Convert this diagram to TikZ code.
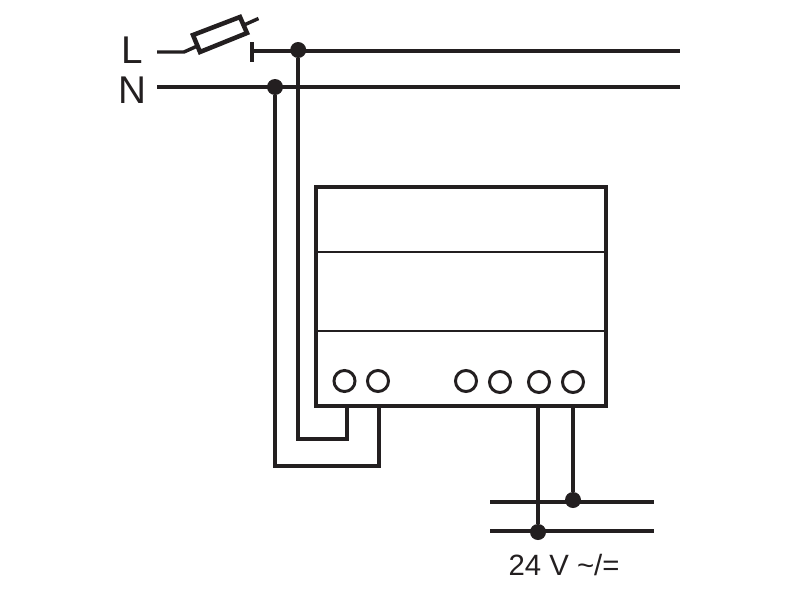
\documentclass[tikz,border=0pt]{standalone}
\usepackage{fontspec}
\setmainfont{Liberation Sans}
\definecolor{ink}{HTML}{231F20}
\tikzset{
  x=0.75pt,y=-0.75pt,
  wire/.style={draw=ink,line width=2.6pt,line join=miter},
  thin wire/.style={draw=ink,line width=1.7pt},
  junction/.style={circle,fill=ink,inner sep=0pt,outer sep=0pt,minimum size=12pt},
  terminal/.style={circle,draw=ink,line width=2.2pt,fill=white,inner sep=0pt,outer sep=0pt,minimum size=15.8pt},
  mainslabel/.style={text=ink,font=\fontsize{29}{29}\selectfont,inner sep=0pt},
  supplylabel/.style={text=ink,font=\fontsize{22}{22}\selectfont,inner sep=0pt},
  device/.style={draw=ink,line width=2.6pt,fill=white,outer sep=0pt},
  fuse/.style={draw=ink,line width=3.4pt,fill=white,line join=miter}
}
\begin{document}
\begin{tikzpicture}
\useasboundingbox (0,0) rectangle (800,600);
% named points
\coordinate (Lstart) at (157,52);
\coordinate (Lbend) at (184,52);
\coordinate (fuseEnd) at (258.5,18.5);
\coordinate (barTop) at (252,42);
\coordinate (barBot) at (252,62);
\coordinate (barMid) at (252,51);
\coordinate (Lend) at (680,51);
\coordinate (Nstart) at (157,87);
\coordinate (Nend) at (680,87);
\coordinate (a1) at (298.2,439);
\coordinate (a2) at (347,439);
\coordinate (a3) at (347,406);
\coordinate (b1) at (275,466);
\coordinate (b2) at (379,466);
\coordinate (b3) at (379,406);
\coordinate (c1) at (538,406);
\coordinate (d1) at (573,406);
\coordinate (p1s) at (490,502);
\coordinate (p1e) at (654,502);
\coordinate (p2s) at (490,531);
\coordinate (p2e) at (654,531);
% mains
\draw[wire] (Lstart) -- (Lbend) -- (fuseEnd);
\draw[wire] (barTop) -- (barBot);
\draw[wire] (barMid) -- (Lend);
\draw[wire] (Nstart) -- (Nend);
\draw[fuse] (193,35) -- (240,17) -- (247,33) -- (200,52) -- cycle;
\node[junction] (jL) at (298.2,50) {};
\node[junction] (jN) at (275,87) {};
% device wires
\draw[wire] (jL) -- (a1) -- (a2) -- (a3);
\draw[wire] (jN) -- (b1) -- (b2) -- (b3);
% device
\node[device,rectangle,minimum width=217.5pt,minimum height=164.25pt,inner sep=0pt,anchor=north west] (box) at (316,187) {};
\draw[thin wire] (box.west |- 0,252) -- (box.east |- 0,252);
\draw[thin wire] (box.west |- 0,331) -- (box.east |- 0,331);
\node[terminal] (t1) at (344.5,381) {};
\node[terminal] (t2) at (378,381) {};
\node[terminal] (t3) at (466,381) {};
\node[terminal] (t4) at (500,382) {};
\node[terminal] (t5) at (539,382) {};
\node[terminal] (t6) at (573,382) {};
% supply
\draw[wire] (p1s) -- (p1e);
\draw[wire] (p2s) -- (p2e);
\node[junction] (j3) at (573,500) {};
\node[junction] (j4) at (538,532) {};
\draw[wire] (c1) -- (j4);
\draw[wire] (d1) -- (j3);
% labels
\node[mainslabel] (Ltxt) at (132,50.5) {L};
\node[mainslabel] (Ntxt) at (132,90) {N};
\node[supplylabel] (V) at (564,565.5) {24 V \char`~/=};
\end{tikzpicture}
\end{document}
